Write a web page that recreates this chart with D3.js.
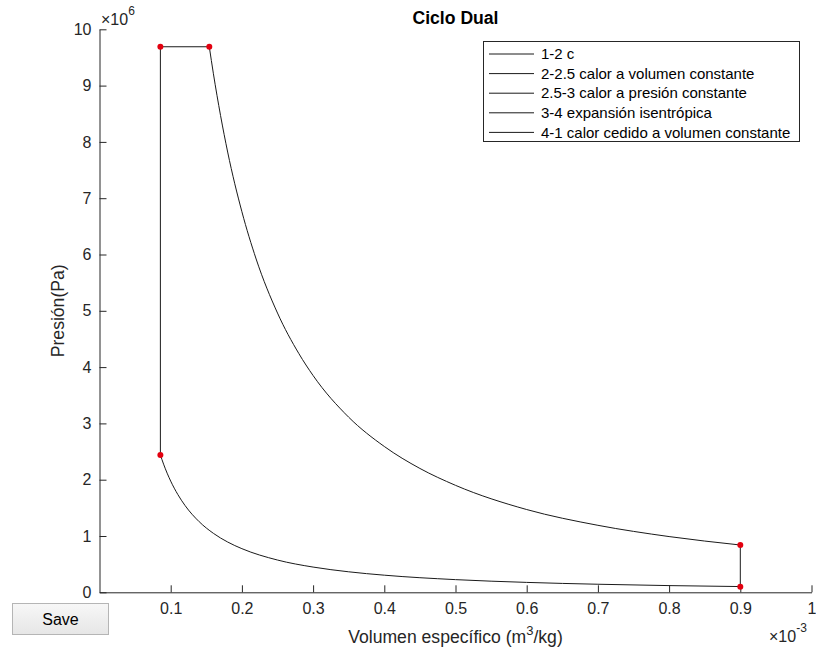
<!DOCTYPE html>
<html>
<head>
<meta charset="utf-8">
<script src="https://cdn.jsdelivr.net/npm/d3@7"></script>
<style>
  html, body { margin: 0; padding: 0; background: #fff; }
  svg { display: block; font-family: "Liberation Sans", Arial, Helvetica, sans-serif; }
</style>
</head>
<body>
<svg id="chart" width="816" height="649"></svg>
<script>
// Specific volume in 1e-3 m^3/kg, pressure in 1e6 Pa
// 1-2 isentropic compression
const compV = [0.0855, 0.09, 0.10, 0.11, 0.12, 0.14, 0.16, 0.18, 0.20, 0.25, 0.30, 0.35, 0.40, 0.50, 0.60, 0.70, 0.80, 0.90];
const compP = [2.44, 2.276, 1.975, 1.737, 1.544, 1.254, 1.047, 0.893, 0.775, 0.573, 0.448, 0.364, 0.304, 0.225, 0.176, 0.143, 0.119, 0.102];
// 2-2.5 heat added at constant volume
const constVolV = [0.0855, 0.0855];
const constVolP = [2.44, 9.69];
// 2.5-3 heat added at constant pressure
const constPresV = [0.0855, 0.1542];
const constPresP = [9.69, 9.69];
// 3-4 isentropic expansion
const expV = [0.1542, 0.16, 0.17, 0.18, 0.20, 0.22, 0.25, 0.28, 0.30, 0.35, 0.40, 0.45, 0.50, 0.60, 0.70, 0.80, 0.90];
const expP = [9.69, 9.21, 8.47, 7.82, 6.76, 5.92, 4.96, 4.24, 3.85, 3.11, 2.59, 2.20, 1.90, 1.47, 1.19, 0.99, 0.84];
// 4-1 heat rejected at constant volume
const rejV = [0.90, 0.90];
const rejP = [0.84, 0.10];
// state points 2, 2.5, 3, 4, 1
const stateV = [0.0855, 0.0855, 0.1542, 0.90, 0.90];
const stateP = [2.44, 9.69, 9.69, 0.84, 0.10];

const legendLabels = [
  "1-2 c",
  "2-2.5 calor a volumen constante",
  "2.5-3 calor a presión constante",
  "3-4 expansión isentrópica",
  "4-1 calor cedido a volumen constante"
];
const xTicks = [0.1, 0.2, 0.3, 0.4, 0.5, 0.6, 0.7, 0.8, 0.9, 1];
const yTicks = [0, 1, 2, 3, 4, 5, 6, 7, 8, 9, 10];

const svg = d3.select("#chart");
const axisColor = "#262626";
const lineColor = "#1a1a1a";
const tickFont = 16;
const labelFont = 17.6;

const x = d3.scaleLinear().domain([0, 1]).range([99.5, 811.5]);
const y = d3.scaleLinear().domain([0, 10]).range([592.3, 29.3]);

// axes (ticks inward, box off)
const xAxis = svg.append("g").attr("transform", `translate(0,${y(0)})`)
  .call(d3.axisBottom(x).tickValues(xTicks).tickSizeInner(-7).tickSizeOuter(0)
    .tickFormat(d => d === 1 ? "1" : d3.format(".1f")(d)));
xAxis.select(".domain").attr("stroke", axisColor).attr("stroke-width", 1);
xAxis.selectAll(".tick line").attr("stroke", axisColor);
xAxis.selectAll(".tick text").attr("fill", axisColor).attr("font-size", tickFont)
  .attr("font-family", "Liberation Sans, Arial, sans-serif").attr("y", 10).attr("dy", "0.71em");

const yAxis = svg.append("g").attr("transform", `translate(${x(0)},0)`)
  .call(d3.axisLeft(y).tickValues(yTicks).tickSizeInner(-7).tickSizeOuter(0).tickFormat(d3.format("d")));
yAxis.select(".domain").attr("stroke", axisColor).attr("stroke-width", 1);
yAxis.selectAll(".tick line").attr("stroke", axisColor);
yAxis.selectAll(".tick text").attr("fill", axisColor).attr("font-size", tickFont)
  .attr("font-family", "Liberation Sans, Arial, sans-serif").attr("x", -8);

// exponent labels
const expTop = svg.append("text").attr("x", 101).attr("y", 25).attr("fill", axisColor).attr("font-size", 16);
expTop.append("tspan").text("×10");
expTop.append("tspan").attr("dy", -10).attr("font-size", 12).text("6");

const expBottom = svg.append("text").attr("x", 769).attr("y", 642).attr("fill", axisColor).attr("font-size", 16);
expBottom.append("tspan").text("×10");
expBottom.append("tspan").attr("dy", -10).attr("font-size", 12).text("-3");

// axis labels and title
svg.append("text").attr("x", (x(0) + x(1)) / 2).attr("y", 643).attr("text-anchor", "middle")
  .attr("fill", axisColor).attr("font-size", labelFont)
  .call(t => {
    t.append("tspan").text("Volumen específico (m");
    t.append("tspan").attr("dy", -8).attr("font-size", 13).text("3");
    t.append("tspan").attr("dy", 8).text("/kg)");
  });

svg.append("text").attr("transform", `translate(64,${(y(0) + y(10)) / 2}) rotate(-90)`)
  .attr("text-anchor", "middle").attr("fill", axisColor).attr("font-size", labelFont).text("Presión(Pa)");

svg.append("text").attr("x", (x(0) + x(1)) / 2).attr("y", 24).attr("text-anchor", "middle")
  .attr("font-weight", "bold").attr("font-size", labelFont).attr("fill", "#000").text("Ciclo Dual");

// process curves
const line = d3.line().x(d => x(d[0])).y(d => y(d[1])).curve(d3.curveMonotoneX);
const straight = d3.line().x(d => x(d[0])).y(d => y(d[1]));
const segments = [
  { v: compV, p: compP, gen: line },
  { v: constVolV, p: constVolP, gen: straight },
  { v: constPresV, p: constPresP, gen: straight },
  { v: expV, p: expP, gen: line },
  { v: rejV, p: rejP, gen: straight }
];
svg.append("g").selectAll("path").data(segments).join("path")
  .attr("d", s => s.gen(d3.zip(s.v, s.p)))
  .attr("fill", "none").attr("stroke", lineColor).attr("stroke-width", 1);

// state points
svg.append("g").selectAll("circle").data(d3.zip(stateV, stateP)).join("circle")
  .attr("cx", d => x(d[0])).attr("cy", d => y(d[1])).attr("r", 3)
  .attr("fill", "#e3000f");

// legend
const lg = svg.append("g");
lg.append("rect").attr("x", 483.5).attr("y", 41.5).attr("width", 316).attr("height", 100)
  .attr("fill", "#fff").attr("stroke", axisColor).attr("stroke-width", 1);
legendLabels.forEach((label, i) => {
  const cy = 54 + i * 19.6;
  lg.append("line").attr("x1", 489).attr("x2", 534).attr("y1", cy).attr("y2", cy)
    .attr("stroke", lineColor).attr("stroke-width", 1);
  lg.append("text").attr("x", 541).attr("y", cy).attr("dy", "0.35em")
    .attr("font-size", 15).attr("fill", "#000").text(label);
});

// Save button
const btn = svg.append("g");
const grad = svg.append("defs").append("linearGradient").attr("id", "btnGrad")
  .attr("x1", 0).attr("y1", 0).attr("x2", 0).attr("y2", 1);
grad.append("stop").attr("offset", "0%").attr("stop-color", "#f7f7f7");
grad.append("stop").attr("offset", "100%").attr("stop-color", "#e6e6e6");
btn.append("rect").attr("x", 12.5).attr("y", 603.5).attr("width", 96).attr("height", 31)
  .attr("fill", "url(#btnGrad)").attr("stroke", "#b5b5b5");
btn.append("text").attr("x", 60.5).attr("y", 619).attr("dy", "0.35em").attr("text-anchor", "middle")
  .attr("font-size", 16).attr("fill", "#000").text("Save");
</script>
</body>
</html>
